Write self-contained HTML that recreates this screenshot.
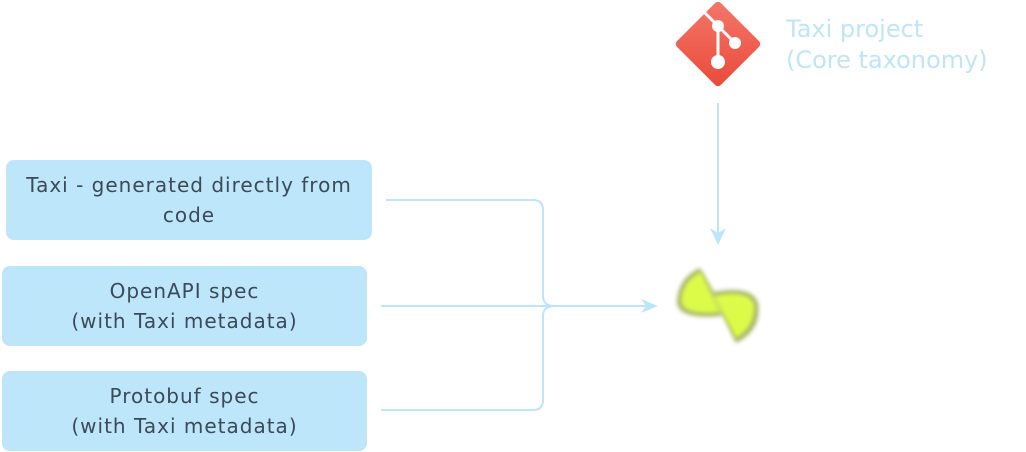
<!DOCTYPE html>
<html><head><style>
body{margin:0;width:1026px;height:452px;background:#fff;overflow:hidden;position:relative;font-family:"DejaVu Sans",sans-serif}
.b{position:absolute;background:#bde6fb;border-radius:8px;color:#3c4a58;font-size:20px;letter-spacing:1px;line-height:30px;text-align:center;display:flex;align-items:center;justify-content:center}
.t{position:absolute;left:786px;top:14px;color:#bfe5f9;font-size:24px;line-height:31px}
</style></head><body>
<div class="b" style="left:6px;top:160px;width:366px;height:80px">Taxi - generated directly from<br>code</div>
<div class="b" style="left:2px;top:266px;width:365px;height:80px">OpenAPI spec<br>(with Taxi metadata)</div>
<div class="b" style="left:2px;top:371px;width:365px;height:80px">Protobuf spec<br>(with Taxi metadata)</div>
<div class="t">Taxi project<br>(Core taxonomy)</div>
<svg width="1026" height="452" style="position:absolute;left:0;top:0">
<defs>
<linearGradient id="g" x1="0" y1="0" x2="1" y2="1"><stop offset="0" stop-color="#f4776a"/><stop offset="1" stop-color="#e94a3a"/></linearGradient>
<filter id="bl"><feGaussianBlur stdDeviation="2"/></filter>
</defs>
<rect x="687" y="13" width="62" height="62" rx="4" fill="url(#g)" transform="rotate(45 718 44)"/>
<g stroke="#fff" stroke-width="3" fill="none"><line x1="704" y1="12" x2="718" y2="26"/><line x1="718" y1="26" x2="718" y2="62"/><line x1="718" y1="26" x2="735" y2="43"/></g>
<g fill="#fff"><circle cx="718" cy="26" r="6"/><circle cx="735" cy="43" r="6"/><circle cx="718" cy="62" r="7"/></g>
<g stroke="#bde6fb" stroke-width="2" fill="none">
<line x1="718" y1="103" x2="718" y2="236"/>
<path d="M386 200 H533 Q543 200 543 210 V296 Q543 306 555 306 H650"/>
<path d="M381 306 H650"/>
<path d="M381 410 H533 Q543 410 543 400 V316 Q543 306 555 306"/>
</g>
<path d="M710 228 L718 245 L726 228 L718 233 Z" fill="#bde6fb"/>
<path d="M641 299 L658 306 L641 313 L646 306 Z" fill="#bde6fb"/>
<g filter="url(#bl)">
<path d="M700 268 Q678 278 677 302 Q678 320 722 316 Z" fill="#a9b46a"/>
<path d="M700 268 L736 343 Q762 330 758 303 Q752 285 714 292 Z" fill="#a9b46a"/>
</g>
<g filter="url(#bl)">
<path d="M701 272 Q682 281 681 301 Q683 316 720 312 Z" fill="#dcfb4a"/>
<path d="M701 272 L736 338 Q756 326 754 304 Q748 289 714 296 Z" fill="#dcfb4a"/>
</g>
</svg>
</body></html>
